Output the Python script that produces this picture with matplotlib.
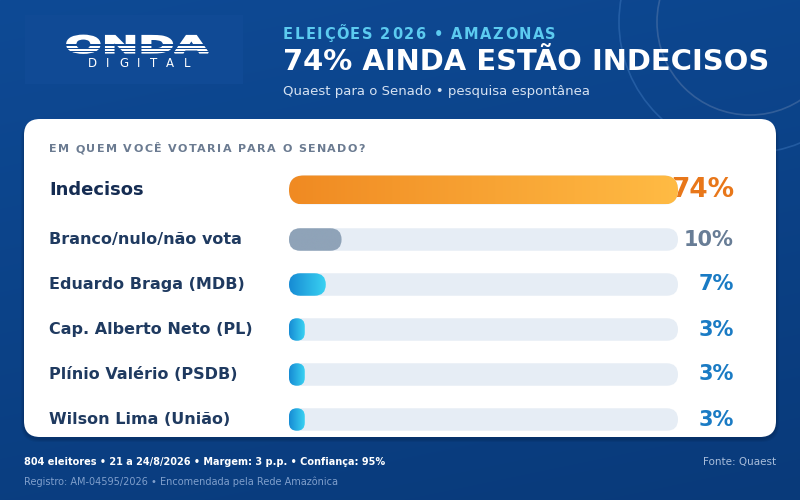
import numpy as np
import matplotlib
matplotlib.use("Agg")
import matplotlib.pyplot as plt
from matplotlib.patches import FancyBboxPatch, Circle, Rectangle, PathPatch
from matplotlib.textpath import TextPath
from matplotlib.font_manager import FontProperties, findfont
from matplotlib.ft2font import FT2Font
from matplotlib.colors import LinearSegmentedColormap
from matplotlib.transforms import Affine2D

# ---------- data ----------
kicker = "ELEIÇÕES 2026 • AMAZONAS"
title = "74% AINDA ESTÃO INDECISOS"
subtitle = "Quaest para o Senado • pesquisa espontânea"
question = "EM QUEM VOCÊ VOTARIA PARA O SENADO?"
categories = ["Indecisos", "Branco/nulo/não vota", "Eduardo Braga (MDB)",
              "Cap. Alberto Neto (PL)", "Plínio Valério (PSDB)", "Wilson Lima (União)"]
values = [74, 10, 7, 3, 3, 3]
kinds = ["lead", "blank", "cand", "cand", "cand", "cand"]
footer_main = "804 eleitores • 21 a 24/8/2026 • Margem: 3 p.p. • Confiança: 95%"
footer_source = "Fonte: Quaest"
footer_reg = "Registro: AM-04595/2026 • Encomendada pela Rede Amazônica"

# ---------- helpers ----------
W, H = 800, 500
BG_TOP = np.array([14, 74, 149]) / 255
BG_BOT = np.array([9, 58, 122]) / 255


def bg_at(x, y):
    t = 0.75 * y / H + 0.25 * x / W
    return BG_TOP * (1 - t) + BG_BOT * t


def advances(s, size, weight="normal"):
    fp = FontProperties(family="DejaVu Sans", weight=weight)
    f = FT2Font(findfont(fp))
    f.set_size(size, 100)
    return [f.load_char(ord(c)).linearHoriAdvance / 65536 for c in s]


def spaced(ax, x, y, s, size, weight, color, width):
    # letter-spaced text: one glyph at a time, spread to the given width
    adv = advances(s, size, weight)
    track = (width - sum(adv)) / max(len(s) - 1, 1)
    for ch, a in zip(s, adv):
        ax.text(x, y, ch, fontsize=size, fontweight=weight, color=color,
                ha="left", va="center", family="DejaVu Sans")
        x += a + track


def grad_cmap(c0, c1):
    return LinearSegmentedColormap.from_list("g", [c0, c1])


# ---------- figure ----------
fig = plt.figure(figsize=(8, 5), dpi=100)
ax = fig.add_axes([0, 0, 1, 1])
ax.set_xlim(0, W)
ax.set_ylim(H, 0)
ax.axis("off")

yy, xx = np.mgrid[0:H, 0:W]
t = 0.75 * yy / H + 0.25 * xx / W
bg = BG_TOP[None, None, :] * (1 - t[..., None]) + BG_BOT[None, None, :] * t[..., None]
ax.imshow(bg, extent=(0, W, H, 0), aspect="auto", zorder=0)

# decorative rings
ax.add_patch(Circle((750, 22), 93, fill=False, ec=(0.55, 0.62, 0.75), lw=1.2, alpha=0.3, zorder=1))
ax.add_patch(Circle((750, 22), 131, fill=False, ec=(0.35, 0.58, 0.85), lw=1.2, alpha=0.3, zorder=1))

# logo box
logo_c = bg_at(130, 50) * 0.94 + 0.06 * np.array([0.2, 0.4, 0.75])
ax.add_patch(Rectangle((25, 15), 218, 69, fc=logo_c, ec="none", zorder=1))
tp = TextPath((0, 0), "ONDA", size=1, prop=FontProperties(family="DejaVu Sans", weight="bold"))
ext = tp.get_extents()
tr = Affine2D().translate(-ext.x0, -ext.y1).scale(141 / ext.width, -17.5 / ext.height).translate(67, 35.5)
ax.add_patch(PathPatch(tr.transform_path(tp), fc="white", ec="white", lw=1.3, zorder=2))
for sy in (44.3, 47.7, 51.1):
    ax.add_patch(Rectangle((60, sy), 160, 1.3, fc=logo_c, ec="none", zorder=3))
spaced(ax, 88, 63.5, "DIGITAL", 8.5, "normal", "white", 102)

# header text
spaced(ax, 283, 34.5, kicker, 10.5, "bold", "#5ccbf0", 273)
ax.text(283, 62, title, fontsize=20.9, fontweight="bold", color="white", va="center", ha="left")
ax.text(283, 92, subtitle, fontsize=9.5, color="#d6e2f2", va="center", ha="left")

# card + shadow
for k, a in enumerate([0.05, 0.05, 0.06]):
    g = 6 - 2 * k
    ax.add_patch(FancyBboxPatch((24 - g / 2, 121), 752 + g, 318 + g / 2,
                                boxstyle="round,pad=0,rounding_size=18", fc="black",
                                ec="none", alpha=a, zorder=2))
ax.add_patch(FancyBboxPatch((24, 119), 752, 318, boxstyle="round,pad=0,rounding_size=16",
                            fc="white", ec="none", zorder=3))

spaced(ax, 49, 149, question, 8, "bold", "#6b7b91", 316)

# ---------- bars ----------
x0_px, x1_px = 289, 678
bax = fig.add_axes([x0_px / W, 0, (x1_px - x0_px) / W, 1])
vmax = max(values)
a = vmax / (x1_px - x0_px)          # data units per pixel in x
row_y = [190] + [239.5 + 45 * i for i in range(len(values) - 1)]

styles = {
    "lead": dict(h=29, c0="#f08a22", c1="#ffbb44", txt="#e8771a", fs=19, lab=13, labc="#152c52"),
    "blank": dict(h=22.5, c0="#8fa3b8", c1="#8fa3b8", txt="#687d96", fs=15, lab=11.5, labc="#1f3a60"),
    "cand": dict(h=22.5, c0="#168bd4", c1="#3ad2f2", txt="#1a7bc4", fs=15, lab=11.5, labc="#1f3a60"),
}

for cat, v, kind, yc in zip(categories, values, kinds, row_y):
    st = styles[kind]
    h = st["h"]
    # track
    r_tr = (h / 2) * a
    bax.add_patch(FancyBboxPatch((0, yc - h / 2), vmax, h,
                                 boxstyle=f"round,pad=0,rounding_size={r_tr}",
                                 mutation_aspect=1 / a, fc="#e6edf5", ec="none", zorder=1))
    # value bar, gradient clipped to a rounded box
    r = min(h / 2, v / a / 2) * a
    bar = FancyBboxPatch((0, yc - h / 2), v, h, boxstyle=f"round,pad=0,rounding_size={r}",
                         mutation_aspect=1 / a, fc="none", ec="none", zorder=2)
    bax.add_patch(bar)
    im = bax.imshow(np.linspace(0, 1, 256)[None, :], cmap=grad_cmap(st["c0"], st["c1"]),
                    extent=(0, v, yc + h / 2, yc - h / 2), aspect="auto", zorder=2)
    im.set_clip_path(bar)

    ax.text(49, yc, cat, fontsize=st["lab"], fontweight="bold", color=st["labc"],
            ha="left", va="center", zorder=5)
    ax.text(734, yc, f"{v}%", fontsize=st["fs"], fontweight="bold", color=st["txt"],
            ha="right", va="center", zorder=5)

bax.set_xlim(0, vmax)
bax.set_ylim(H, 0)
bax.axis("off")

# ---------- footer ----------
ax.text(24, 462, footer_main, fontsize=7, fontweight="bold", color="white", ha="left", va="center")
ax.text(776, 462, footer_source, fontsize=7.5, color="#a9bedb", ha="right", va="center")
ax.text(24, 482, footer_reg, fontsize=7, color="#7f9fcc", ha="left", va="center")

fig.savefig("out.png", dpi=100)
